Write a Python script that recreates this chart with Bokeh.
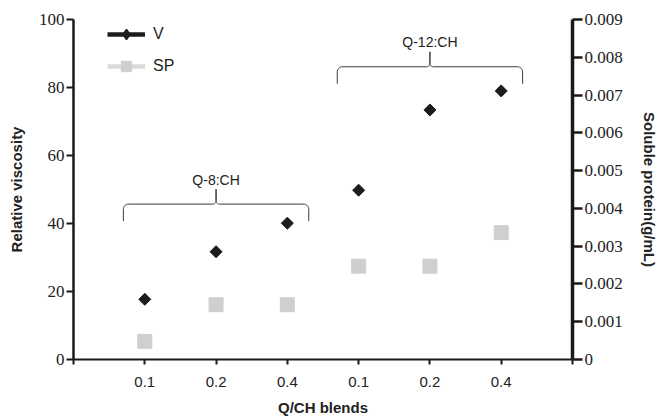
import numpy as np
from bokeh.plotting import figure
from bokeh.models import (ColumnDataSource, LinearAxis, Range1d, FixedTicker,
                          Legend, LegendItem, Label)
from bokeh.embed import file_html
from bokeh.resources import INLINE

# ---- data -------------------------------------------------------------
blend_labels = ["0.1", "0.2", "0.4", "0.1", "0.2", "0.4"]
group_names = ["Q-8:CH", "Q-12:CH"]
viscosity = [17.7, 31.7, 40.1, 49.8, 73.4, 79.0]
soluble_protein = [0.00048, 0.00145, 0.00145, 0.00247, 0.00247, 0.00336]
left_ticks = [0, 20, 40, 60, 80, 100]
right_ticks = [0, 0.001, 0.002, 0.003, 0.004, 0.005, 0.006, 0.007, 0.008, 0.009]

n = len(blend_labels)
xpos = list(range(1, n + 1))

# ---- figure -----------------------------------------------------------
p = figure(width=665, height=418, output_backend="svg", toolbar_location=None,
           x_range=Range1d(0, n + 1), y_range=Range1d(0, 100),
           min_border_left=73, min_border_right=93, min_border_top=19,
           min_border_bottom=59)
p.extra_y_ranges = {"sp": Range1d(0, 0.009)}
p.xgrid.visible = False
p.ygrid.visible = False
p.outline_line_color = None
p.background_fill_color = "white"
p.border_fill_color = "white"

AX = "#1a1a1a"
TXT = "#222222"
SANS = "Liberation Sans"
SERIF = "Liberation Serif"

# x axis
xa = p.xaxis[0]
xa.ticker = FixedTicker(ticks=list(range(0, n + 2)))
ov = {0: "", n + 1: ""}
for i, lab in enumerate(blend_labels):
    ov[i + 1] = lab
xa.major_label_overrides = ov
xa.axis_label = "Q/CH blends"
xa.axis_line_width = 2
xa.axis_line_color = AX
xa.major_tick_line_width = 2
xa.major_tick_line_color = AX
xa.major_tick_out = 5
xa.major_tick_in = 0
xa.minor_tick_line_color = None
xa.major_label_standoff = 12
xa.major_label_text_font = SANS
xa.major_label_text_font_size = "15px"
xa.major_label_text_color = TXT
xa.axis_label_standoff = 9
xa.axis_label_text_font = SANS
xa.axis_label_text_font_style = "bold"
xa.axis_label_text_font_size = "15px"
xa.axis_label_text_color = TXT

# left axis
ya = p.yaxis[0]
ya.ticker = FixedTicker(ticks=left_ticks)
ya.axis_label = "Relative viscosity"
ya.axis_line_width = 2.5
ya.axis_line_color = AX
ya.major_tick_line_width = 2
ya.major_tick_line_color = AX
ya.major_tick_out = 7
ya.major_tick_in = 0
ya.minor_tick_line_color = None
ya.major_label_standoff = 2
ya.major_label_text_font = SERIF
ya.major_label_text_font_size = "17px"
ya.major_label_text_color = TXT
ya.axis_label_standoff = 11
ya.axis_label_text_font = SANS
ya.axis_label_text_font_style = "bold"
ya.axis_label_text_font_size = "15px"
ya.axis_label_text_color = TXT

# right axis
ra = LinearAxis(y_range_name="sp", axis_label="Soluble protein(g/mL)")
ra.ticker = FixedTicker(ticks=right_ticks)
ra.major_label_overrides = {t: f"{t:g}" for t in right_ticks}
ra.axis_line_width = 3.5
ra.axis_line_color = AX
ra.major_tick_line_width = 2.5
ra.major_tick_line_color = AX
ra.major_tick_out = 10
ra.major_tick_in = 0
ra.minor_tick_line_color = None
ra.major_label_standoff = 2
ra.major_label_text_font = SERIF
ra.major_label_text_font_size = "17px"
ra.major_label_text_color = TXT
ra.axis_label_standoff = 15
ra.axis_label_text_font = SANS
ra.axis_label_text_font_style = "bold"
ra.axis_label_text_font_size = "15px"
ra.axis_label_text_color = TXT
p.add_layout(ra, "right")

# ---- data marks -------------------------------------------------------
src = ColumnDataSource(data=dict(x=xpos, v=viscosity, sp=soluble_protein))
V_COL = "#1c1c1c"
SP_COL = "#cfcfd0"
sp_r = p.scatter("x", "sp", source=src, y_range_name="sp", marker="square",
                 size=14, fill_color=SP_COL, line_color=SP_COL)
v_r = p.scatter("x", "v", source=src, marker="square", angle=np.pi / 4,
                size=8.5, fill_color=V_COL, line_color=V_COL)

# legend-only renderers (not visible in the plot area)
blank = ColumnDataSource(data=dict(x=[np.nan], y=[np.nan]))
lv = p.line("x", "y", source=blank, line_color=V_COL, line_width=4.5)
dv = p.scatter("x", "y", source=blank, marker="diamond", line_width=1.5,
               fill_color=V_COL, line_color=V_COL)
ls = p.line("x", "y", source=blank, line_color="#dadada", line_width=4.5)
qs = p.scatter("x", "y", source=blank, marker="square",
               fill_color=SP_COL, line_color=SP_COL)

legend = Legend(items=[LegendItem(label="V", renderers=[lv, dv]),
                       LegendItem(label="SP", renderers=[ls, qs])],
                location=(29, 275), glyph_width=38, glyph_height=26,
                label_height=26, spacing=6, padding=5, margin=0,
                border_line_alpha=0, background_fill_alpha=0,
                label_text_font=SANS, label_text_font_size="16px",
                label_text_color=TXT, label_standoff=8)
p.add_layout(legend)

# ---- group braces -----------------------------------------------------
group_centers = [2, 5]
half_w = 1.3
brace_tops = [45.7, 86.1]
drop = 5.0
peak = 4.4
rx, ry = 0.07, 1.5
crx, cry = 0.045, 1.0


def brace(c, yt):
    t1 = np.linspace(np.pi, np.pi / 2, 10)
    t2 = np.linspace(-np.pi / 2, 0, 10)
    xs = [c - half_w]
    ys = [yt - drop]
    xs += list(c - half_w + rx + rx * np.cos(t1))
    ys += list(yt - ry + ry * np.sin(t1))
    xs += list(c - crx + crx * np.cos(t2))
    ys += list(yt + cry + cry * np.sin(t2))
    xs += [c]
    ys += [yt + peak]
    rxs = [2 * c - xx for xx in reversed(xs)]
    rys = list(reversed(ys))
    return xs + rxs, ys + rys


for name, c, yt in zip(group_names, group_centers, brace_tops):
    bx, by = brace(c, yt)
    p.line(bx, by, line_color="#3a3a3a", line_width=1)
    p.add_layout(Label(x=c, y=yt + peak + 0.4, text=name, text_align="center",
                       text_baseline="bottom", text_font=SANS,
                       text_font_size="14px", text_color=TXT))

open("out.html", "w").write(file_html(p, INLINE))
